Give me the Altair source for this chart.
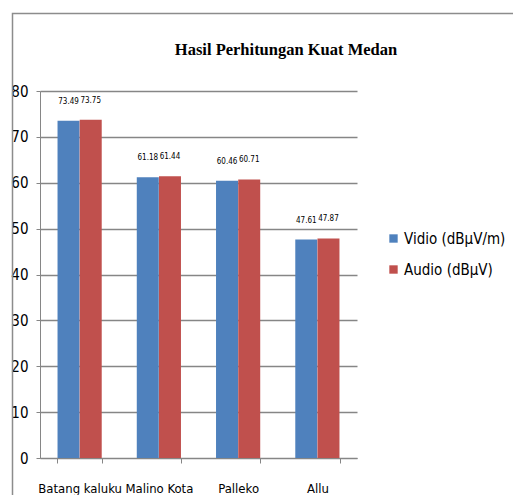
import altair as alt
import pandas as pd

title_text = "Hasil Perhitungan Kuat Medan"
categories = ["Batang kaluku", "Malino Kota", "Palleko", "Allu"]
series = ["Vidio (dBµV/m)", "Audio (dBµV)"]
vidio = [73.49, 61.18, 60.46, 47.61]
audio = [73.75, 61.44, 60.71, 47.87]
colors = ["#4F81BD", "#C0504D"]

rows = []
for c, v, a in zip(categories, vidio, audio):
    rows.append({"lokasi": c, "seri": series[0], "nilai": v, "label": f"{v:.2f}"})
    rows.append({"lokasi": c, "seri": series[1], "nilai": a, "label": f"{a:.2f}"})
df = pd.DataFrame(rows)

FONT = "DejaVu Sans Condensed, Liberation Sans Narrow, Liberation Sans"

x = alt.X("lokasi:N", sort=categories, title=None,
          scale=alt.Scale(paddingInner=0.44, paddingOuter=0.22),
          axis=alt.Axis(labelAngle=0, labelFont=FONT, labelFontSize=13, labelColor="#000",
                        tickBand="extent", tickColor="#868686", tickSize=5,
                        domainColor="#868686", labelPadding=19))
xo = alt.XOffset("seri:N", sort=series)
y = alt.Y("nilai:Q", title=None,
          scale=alt.Scale(domain=[0, 80]),
          axis=alt.Axis(values=[0, 10, 20, 30, 40, 50, 60, 70, 80], labelFont=FONT,
                        labelFontSize=15, labelColor="#000", gridColor="#868686",
                        gridWidth=1.5, tickColor="#868686", tickSize=4, domainColor="#868686",
                        labelPadding=8))

base = alt.Chart(pd.DataFrame({"a": [0]}))
frame = base.mark_rect(fill=None, stroke="#8c8c8c", strokeWidth=1.5).encode(
    x=alt.value(-27.5), x2=alt.value(600), y=alt.value(-77.5), y2=alt.value(600))
title = base.mark_text(font="Liberation Serif", fontSize=16.5, fontWeight="bold", color="#000",
                       baseline="middle", align="center").encode(
    x=alt.value(246), y=alt.value(-41), text=alt.value(title_text))

bars = alt.Chart(df).mark_bar(size=22).encode(
    x=x, xOffset=xo, y=y,
    color=alt.Color("seri:N", sort=series, scale=alt.Scale(domain=series, range=colors),
                    legend=alt.Legend(title=None, orient="none", legendX=346, legendY=140,
                                      symbolType="square", symbolSize=70, symbolStrokeWidth=0,
                                      labelFont=FONT, labelFontSize=15, labelColor="#000",
                                      rowPadding=15, labelOffset=3)),
)

labels = alt.Chart(df).mark_text(font=FONT, fontSize=8, baseline="middle", dy=-19, color="#000").encode(
    x=x, xOffset=xo, y=y, text="label:N"
)

chart = alt.layer(frame, title, bars, labels).properties(
    width=317, height=367,
    padding={"left": 40, "top": 91, "right": 156, "bottom": 37},
    autosize=alt.AutoSizeParams(type="none"),
).configure_view(stroke=None).configure_axisY(grid=True).configure_axisX(grid=False)

chart.save("out.html", embed_options={"renderer": "svg", "actions": False})
